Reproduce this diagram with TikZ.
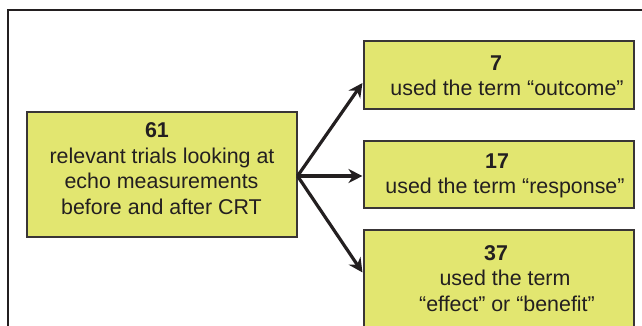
\documentclass[tikz,border=0pt]{standalone}
\usepackage{fontspec}
\setmainfont{Liberation Sans}
\usetikzlibrary{arrows.meta,calc}
\definecolor{boxfill}{HTML}{E2E670}
\definecolor{ink}{HTML}{231F20}
\begin{document}
\begin{tikzpicture}[x=1pt,y=-1pt,
  box/.style={draw=ink!90, line width=1.1pt, fill=boxfill, inner sep=0pt},
  txt/.style={font=\fontsize{21.4}{25.5}\selectfont, text=ink, inner sep=0pt, anchor=base},
  num/.style={txt, font=\fontsize{21.4}{25.5}\selectfont\bfseries},
  arr/.style={draw=ink, line width=3.2pt, -{Stealth[length=14pt,width=14pt,inset=4.5pt]}},
  frame/.style={draw=ink, line width=2pt}]
\useasboundingbox (0,0) rectangle (642,325);

% open frame: left and top edges only
\coordinate (frameBL) at (8,335);
\coordinate (frameTL) at (8,10);
\coordinate (frameTR) at (650,10);
\draw[frame] (frameBL) -- (frameTL) -- (frameTR);

% boxes
\node[box, minimum width=270pt, minimum height=125pt] (src) at (162,174.5) {};
\node[box, minimum width=270pt, minimum height=68pt] (b1) at (499,75) {};
\node[box, minimum width=270pt, minimum height=67pt] (b2) at (499,174.5) {};
\node[box, minimum width=270pt, minimum height=110pt] (b3) at (499,285) {};

% text of the source box
\node[num] (srcN) at (157,137) {61};
\node[txt] (srcA) at (162,163) {relevant trials looking at};
\node[txt] (srcB) at (161.5,188.5) {echo measurements};
\node[txt] (srcC) at (161.5,214) {before and after CRT};

% text of the outcome boxes
\node[num] (b1N) at (496,70) {7};
\node[txt] (b1A) at (507,95) {used the term “outcome”};
\node[num] (b2N) at (497,168) {17};
\node[txt] (b2A) at (505,193) {used the term “response”};
\node[num] (b3N) at (496,260) {37};
\node[txt] (b3A) at (505,285) {used the term};
\node[txt] (b3B) at (507,311) {“effect” or “benefit”};

% connectors
\coordinate (fork) at ($(src.east)+(0,1.5)$);
\draw[arr] (fork) -- ($(b1.west)+(-1,8)$);
\draw[arr] (fork) -- ($(b2.west)+(-1,1.5)$);
\draw[arr] (fork) -- ($(b3.north west)+(-1,43)$);
\end{tikzpicture}
\end{document}
